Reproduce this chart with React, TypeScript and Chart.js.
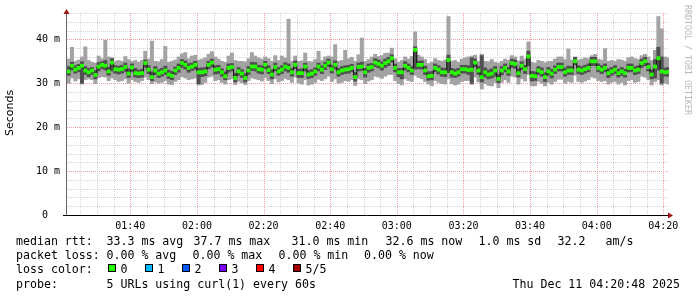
import React, { useEffect, useRef } from 'react';
import { Chart, registerables } from 'chart.js';

Chart.register(...registerables);

// ---- data (milliseconds), one sample per minute starting 01:21 ----
const FIRST_SAMPLE_MIN = 81; // minutes after midnight
const medianMs = [
  32.7, 34.0, 33.1, 33.5, 34.0, 32.9, 32.5, 32.9, 31.9, 33.8,
  34.2, 34.0, 32.7, 34.7, 33.2, 33.1, 33.2, 33.7, 32.2, 33.6,
  32.3, 32.2, 32.3, 34.6, 33.1, 31.4, 32.9, 32.2, 32.5, 32.9,
  32.0, 31.7, 32.9, 33.5, 34.6, 34.2, 33.5, 33.8, 34.2, 32.5,
  32.5, 32.7, 34.2, 34.7, 33.1, 33.2, 32.5, 31.6, 33.5, 33.7,
  31.2, 32.7, 32.2, 31.2, 32.9, 33.8, 33.8, 33.2, 33.1, 34.2,
  33.0, 32.0, 33.7, 32.7, 33.1, 33.8, 33.5, 32.5, 34.2, 32.3,
  32.3, 33.8, 32.0, 32.2, 32.7, 33.8, 33.1, 34.0, 34.7, 33.2,
  34.2, 32.5, 32.9, 33.1, 33.2, 33.5, 31.4, 33.7, 33.8, 32.5,
  33.5, 33.7, 34.7, 34.4, 34.0, 34.6, 35.0, 35.7, 33.5, 32.5,
  32.5, 34.0, 33.5, 32.9, 37.6, 34.2, 34.2, 32.9, 31.6, 31.7,
  33.5, 33.1, 32.5, 32.5, 35.3, 32.5, 32.2, 32.5, 33.2, 33.2,
  33.0, 33.1, 34.7, 32.9, 31.4, 32.5, 32.0, 32.2, 32.9, 31.0,
  32.9, 33.5, 32.7, 34.6, 34.4, 32.3, 34.0, 33.2, 36.1, 31.7,
  31.6, 32.9, 32.5, 31.4, 32.7, 32.2, 33.1, 33.7, 33.7, 32.5,
  32.9, 32.9, 35.0, 33.1, 32.9, 33.2, 33.5, 35.0, 35.0, 33.5,
  33.1, 33.5, 32.3, 32.7, 33.1, 32.3, 32.7, 32.3, 33.5, 33.5,
  32.9, 33.1, 34.6, 35.0, 33.7, 32.0, 33.8, 35.7, 32.7, 32.5,
  32.6,
];
const innerLowMs = [
  31.8, 33.0, 32.3, 32.6, 30.0, 32.0, 31.5, 32.0, 31.0, 32.8,
  33.3, 33.0, 31.8, 32.8, 32.3, 32.1, 32.3, 32.7, 31.3, 32.6,
  31.4, 31.3, 31.4, 33.6, 32.2, 30.6, 32.0, 31.3, 31.6, 32.0,
  31.1, 30.8, 32.0, 32.5, 33.6, 33.2, 32.5, 32.9, 33.2, 29.9,
  31.5, 31.7, 33.3, 33.7, 32.1, 32.2, 31.6, 30.8, 32.5, 32.8,
  30.3, 31.8, 31.3, 30.3, 32.0, 32.9, 32.8, 32.3, 32.1, 33.3,
  32.2, 31.0, 32.8, 31.8, 32.2, 32.8, 32.5, 31.6, 33.3, 31.3,
  31.3, 32.8, 31.1, 31.3, 31.8, 32.8, 32.2, 33.1, 33.8, 32.3,
  33.2, 31.6, 32.0, 32.2, 32.3, 32.6, 30.5, 32.8, 32.9, 31.4,
  32.5, 32.8, 33.8, 33.5, 33.0, 33.6, 34.0, 34.8, 32.6, 31.5,
  31.0, 33.0, 32.6, 32.0, 33.2, 33.3, 33.2, 32.0, 30.7, 30.8,
  32.6, 32.1, 31.6, 31.5, 32.4, 31.4, 31.3, 31.6, 32.3, 32.3,
  32.0, 30.0, 33.8, 32.0, 30.3, 31.4, 31.0, 31.2, 31.6, 30.1,
  31.9, 32.6, 31.8, 33.6, 33.4, 31.4, 33.1, 32.2, 34.0, 30.5,
  30.6, 32.0, 31.6, 30.4, 31.8, 31.2, 32.2, 32.8, 32.8, 31.6,
  32.0, 32.0, 34.2, 32.2, 32.0, 32.3, 32.6, 34.0, 34.0, 32.6,
  32.2, 32.6, 31.3, 31.8, 32.2, 31.4, 31.8, 31.4, 32.6, 32.6,
  32.0, 32.2, 33.6, 34.0, 32.8, 31.0, 31.2, 33.0, 30.0, 31.6,
  31.6,
];
const innerHighMs = [
  33.8, 34.8, 34.0, 34.3, 34.9, 33.8, 33.4, 33.6, 32.9, 34.7,
  34.9, 35.2, 33.6, 35.6, 34.0, 33.9, 34.1, 34.6, 33.3, 34.4,
  33.4, 33.0, 33.2, 35.3, 34.0, 32.6, 33.8, 33.1, 33.4, 33.9,
  33.0, 32.7, 33.7, 34.4, 35.4, 35.1, 34.5, 34.6, 35.0, 33.4,
  33.5, 33.6, 35.0, 35.5, 34.0, 34.1, 33.3, 32.6, 34.4, 34.5,
  32.3, 33.6, 33.1, 32.2, 33.8, 34.8, 34.7, 34.1, 34.0, 35.0,
  34.0, 33.1, 34.6, 33.6, 34.0, 34.7, 34.4, 33.4, 35.1, 33.2,
  33.3, 34.6, 32.9, 33.1, 33.5, 34.6, 34.0, 34.8, 35.5, 34.1,
  35.1, 33.4, 33.8, 34.0, 34.1, 34.3, 32.5, 34.6, 34.8, 33.4,
  34.4, 34.5, 35.6, 35.3, 34.9, 35.5, 35.9, 36.5, 34.4, 33.4,
  33.4, 34.9, 34.4, 33.8, 38.3, 35.0, 35.1, 33.9, 32.6, 32.7,
  34.4, 34.0, 33.5, 33.4, 36.4, 33.4, 33.2, 33.4, 34.1, 34.1,
  34.0, 35.8, 35.5, 33.9, 36.3, 33.5, 33.0, 33.3, 33.8, 32.0,
  33.8, 34.4, 33.6, 35.5, 35.3, 33.3, 34.9, 34.1, 37.3, 32.7,
  32.6, 33.8, 33.5, 32.4, 33.6, 33.2, 34.0, 34.6, 34.6, 33.5,
  33.9, 33.8, 35.9, 34.0, 33.8, 34.1, 34.4, 35.9, 35.9, 34.4,
  34.0, 34.4, 33.3, 33.6, 34.0, 33.2, 33.6, 33.2, 34.4, 34.4,
  33.8, 34.0, 35.5, 35.9, 34.6, 33.0, 35.4, 38.2, 36.0, 33.5,
  33.6,
];
const minMs = [
  30.0, 31.2, 30.5, 31.0, 29.8, 30.8, 31.0, 30.8, 29.9, 31.3,
  31.5, 31.4, 30.6, 31.2, 30.8, 30.4, 30.6, 31.0, 30.0, 30.8,
  30.4, 30.2, 30.6, 31.4, 30.8, 29.9, 30.3, 30.0, 30.2, 30.6,
  29.8, 29.7, 30.4, 30.8, 31.5, 31.2, 30.8, 31.0, 31.2, 29.6,
  29.7, 30.2, 31.4, 31.6, 30.6, 30.8, 30.2, 29.8, 30.8, 31.0,
  29.7, 30.4, 30.1, 29.7, 30.6, 31.2, 31.0, 30.8, 30.5, 31.2,
  30.6, 29.9, 31.0, 30.3, 30.6, 31.1, 30.8, 30.2, 31.4, 30.0,
  29.8, 30.8, 29.6, 29.8, 30.2, 30.9, 30.6, 31.0, 31.6, 30.4,
  31.0, 30.0, 30.2, 30.6, 30.4, 30.8, 29.5, 31.0, 30.8, 29.9,
  30.5, 30.8, 31.6, 31.4, 31.1, 31.6, 32.0, 32.0, 30.6, 29.9,
  29.6, 31.0, 30.6, 30.4, 31.8, 31.3, 31.0, 30.4, 29.8, 29.4,
  30.6, 30.2, 29.9, 29.8, 31.0, 29.9, 29.6, 29.8, 30.4, 30.6,
  30.6, 29.7, 31.4, 30.3, 28.7, 29.9, 29.5, 29.4, 30.2, 29.0,
  30.2, 30.8, 30.2, 31.6, 31.4, 29.8, 31.0, 30.5, 32.0, 29.4,
  29.4, 30.4, 30.0, 29.4, 30.2, 29.8, 30.4, 30.9, 30.9, 30.0,
  30.4, 30.2, 31.8, 30.4, 30.2, 30.5, 30.8, 31.4, 31.2, 30.6,
  30.4, 30.6, 29.8, 30.2, 30.4, 29.8, 30.2, 29.6, 30.6, 30.8,
  30.2, 30.4, 31.6, 31.4, 30.8, 29.6, 30.4, 30.8, 29.6, 30.0,
  29.8,
];
const maxMs = [
  35.5, 38.2, 35.0, 35.3, 36.0, 38.3, 35.2, 34.8, 34.6, 36.2,
  35.6, 39.8, 36.0, 35.8, 35.0, 35.2, 35.0, 36.1, 35.4, 35.0,
  35.2, 34.8, 35.2, 37.3, 35.5, 39.6, 35.0, 34.9, 35.4, 38.4,
  34.8, 35.0, 35.3, 36.0, 36.7, 37.0, 35.6, 36.2, 36.4, 35.3,
  35.5, 35.8, 36.6, 37.2, 36.0, 35.5, 35.0, 34.8, 36.2, 36.9,
  35.2, 35.0, 35.0, 34.9, 35.6, 37.0, 36.2, 35.8, 35.5, 36.0,
  35.6, 35.0, 36.3, 35.2, 36.2, 35.8, 44.6, 35.0, 36.2, 35.0,
  35.1, 36.9, 35.0, 34.9, 35.4, 37.3, 35.2, 36.0, 36.2, 36.0,
  38.8, 35.0, 35.2, 37.5, 35.6, 35.9, 35.0, 36.5, 40.3, 35.0,
  35.4, 36.0, 36.6, 36.1, 36.3, 36.8, 36.9, 38.0, 35.6, 34.8,
  35.2, 36.0, 35.5, 36.1, 41.7, 36.4, 36.0, 35.4, 34.5, 34.8,
  35.6, 35.2, 35.0, 35.3, 45.2, 35.0, 35.2, 34.8, 35.5, 35.8,
  36.0, 36.2, 36.4, 35.0, 36.6, 35.0, 34.9, 35.4, 34.8, 34.6,
  35.0, 35.5, 35.2, 36.3, 36.0, 35.1, 36.2, 35.5, 39.4, 34.8,
  34.6, 35.2, 35.0, 34.7, 35.0, 35.0, 35.5, 36.0, 36.0, 35.4,
  37.8, 35.3, 36.0, 35.3, 35.5, 35.8, 35.6, 36.3, 36.6, 35.5,
  35.3, 37.9, 35.0, 35.2, 35.0, 35.4, 35.3, 35.0, 35.8, 36.0,
  35.6, 35.4, 36.3, 36.6, 36.0, 35.2, 37.5, 45.2, 42.4, 36.0,
  35.8,
];

// axis ranges / ticks
const X_MIN_MIN = 81;
const X_MAX_MIN = 261.7;
const Y_MAX_MS = 46;

// legend texts
const LEGEND_RTT = ['median rtt:', '33.3 ms avg', '37.7 ms max', '31.0 ms min', '32.6 ms now', '1.0 ms sd', '32.2', 'am/s'];
const LEGEND_LOSS = ['packet loss:', '0.00 % avg', '0.00 % max', '0.00 % min', '0.00 % now'];
const LOSS_TITLE = 'loss color:';
const LOSS_LABELS = ['0', '1', '2', '3', '4', '5/5'];
const LOSS_COLORS = ['#26ff00', '#00b8ff', '#0059ff', '#7e00ff', '#ff0000', '#a00000'];
const LEGEND_PROBE = ['probe:', '5 URLs using curl(1) every 60s', 'Thu Dec 11 04:20:48 2025'];
const Y_TITLE = 'Seconds';
const WATERMARK = 'RRDTOOL / TOBI OETIKER';

const MONO = '"DejaVu Sans Mono", monospace';

const decorPlugin = {
  id: 'smokeDecor',
  beforeDatasetsDraw(chart: any) {
    const { ctx, chartArea } = chart;
    const xs = chart.scales.x;
    const ys = chart.scales.y;
    ctx.save();
    ctx.lineWidth = 1;
    ctx.setLineDash([1, 1]);
    for (let v = 0; v <= Y_MAX_MS; v += 2) {
      const y = Math.round(ys.getPixelForValue(v)) + 0.5;
      ctx.strokeStyle = v % 10 === 0 ? 'rgba(238,150,150,0.9)' : 'rgba(205,205,205,0.9)';
      ctx.beginPath();
      ctx.moveTo(chartArea.left, y);
      ctx.lineTo(chartArea.right, y);
      ctx.stroke();
    }
    for (let t = Math.ceil(X_MIN_MIN / 5) * 5; t <= X_MAX_MIN; t += 5) {
      const x = Math.round(xs.getPixelForValue(t)) + 0.5;
      ctx.strokeStyle = t % 20 === 0 ? 'rgba(238,150,150,0.9)' : 'rgba(205,205,205,0.9)';
      ctx.beginPath();
      ctx.moveTo(x, chartArea.top);
      ctx.lineTo(x, chartArea.bottom);
      ctx.stroke();
    }
    ctx.restore();
  },
  afterDatasetsDraw(chart: any) {
    const { ctx, chartArea } = chart;
    ctx.save();
    ctx.setLineDash([]);
    ctx.lineWidth = 1;
    ctx.strokeStyle = '#666';
    ctx.beginPath();
    ctx.moveTo(chartArea.left - 0.5, chartArea.bottom);
    ctx.lineTo(chartArea.left - 0.5, chartArea.top - 2);
    ctx.stroke();
    ctx.strokeStyle = '#000';
    ctx.beginPath();
    ctx.moveTo(chartArea.left - 4, chartArea.bottom + 0.5);
    ctx.lineTo(chartArea.right + 1, chartArea.bottom + 0.5);
    ctx.stroke();
    ctx.fillStyle = '#a01010';
    ctx.beginPath();
    ctx.moveTo(chartArea.left - 0.5, chartArea.top - 4);
    ctx.lineTo(chartArea.left - 3.5, chartArea.top + 1);
    ctx.lineTo(chartArea.left + 2.5, chartArea.top + 1);
    ctx.closePath();
    ctx.fill();
    ctx.beginPath();
    ctx.moveTo(chartArea.right + 4, chartArea.bottom + 0.5);
    ctx.lineTo(chartArea.right - 1, chartArea.bottom - 2.5);
    ctx.lineTo(chartArea.right - 1, chartArea.bottom + 3.5);
    ctx.closePath();
    ctx.fill();
    ctx.restore();
  },
  afterDraw(chart: any) {
    const { ctx } = chart;
    ctx.save();
    ctx.textBaseline = 'alphabetic';
    ctx.textAlign = 'left';
    ctx.fillStyle = '#000';
    ctx.font = `11.6px ${MONO}`;
    const rttX = [16, 106.5, 193.5, 291.5, 385.5, 478.5, 557.5, 605.5];
    LEGEND_RTT.forEach((t, i) => ctx.fillText(t, rttX[i], 245));
    const lossX = [16, 106.5, 192.5, 278.5, 364];
    LEGEND_LOSS.forEach((t, i) => ctx.fillText(t, lossX[i], 259.2));
    ctx.fillText(LOSS_TITLE, 16, 273.4);
    LOSS_LABELS.forEach((t, i) => {
      const bx = 108 + i * 37;
      ctx.fillStyle = LOSS_COLORS[i];
      ctx.fillRect(bx, 264, 8, 8);
      ctx.strokeStyle = '#000';
      ctx.lineWidth = 1;
      ctx.strokeRect(bx + 0.5, 264.5, 7, 7);
      ctx.fillStyle = '#000';
      ctx.fillText(t, bx + 12.5, 273.4);
    });
    const probeX = [16, 106.5, 512.5];
    LEGEND_PROBE.forEach((t, i) => ctx.fillText(t, probeX[i], 287.6));

    ctx.save();
    ctx.translate(10, 113);
    ctx.rotate(-Math.PI / 2);
    ctx.textAlign = 'center';
    ctx.textBaseline = 'middle';
    ctx.font = '11px "DejaVu Sans", sans-serif';
    ctx.fillText(Y_TITLE, 0, 0);
    ctx.restore();

    ctx.save();
    ctx.translate(687.5, 5);
    ctx.rotate(Math.PI / 2);
    ctx.textAlign = 'left';
    ctx.textBaseline = 'middle';
    ctx.fillStyle = '#b8b8b8';
    ctx.font = `8.3px ${MONO}`;
    ctx.fillText(WATERMARK, 0, 0);
    ctx.restore();
    ctx.restore();
  },
};

function pad2(n: number) {
  return n < 10 ? `0${n}` : `${n}`;
}

export default function App() {
  const ref = useRef<HTMLCanvasElement | null>(null);

  useEffect(() => {
    const canvas = ref.current;
    if (!canvas) return;
    const times = medianMs.map((_, i) => FIRST_SAMPLE_MIN + 0.5 + i);
    const barCommon = {
      type: 'bar' as const,
      borderWidth: 0,
      barPercentage: 1,
      categoryPercentage: 1,
      grouped: false,
    };
    const chart = new Chart(canvas, {
      data: {
        datasets: [
          {
            ...barCommon,
            label: 'min-max',
            data: times.map((t, i) => ({ x: t, y: [minMs[i], maxMs[i]] })),
            backgroundColor: '#a3a3a3',
            order: 4,
          },
          {
            ...barCommon,
            label: 'inner',
            data: times.map((t, i) => ({ x: t, y: [innerLowMs[i], innerHighMs[i]] })),
            backgroundColor: '#505050',
            order: 3,
          },
          {
            type: 'line' as const,
            label: 'median line',
            data: times.map((t, i) => ({ x: t, y: medianMs[i] })),
            borderColor: '#111',
            borderWidth: 1,
            pointRadius: 0,
            stepped: 'middle',
            order: 2,
          },
          {
            ...barCommon,
            label: 'median',
            data: times.map((t, i) => ({ x: t, y: [medianMs[i] - 0.35, medianMs[i] + 0.35] })),
            backgroundColor: '#26ff00',
            order: 1,
          },
        ] as any,
      },
      options: {
        responsive: false,
        animation: false,
        devicePixelRatio: 1,
        layout: { padding: { top: 12, right: 28, left: 0, bottom: 0 } },
        plugins: { legend: { display: false }, tooltip: { enabled: false } },
        scales: {
          x: {
            type: 'linear',
            offset: false,
            min: X_MIN_MIN,
            max: X_MAX_MIN,
            afterFit: (s: any) => {
              s.height = 82;
            },
            grid: { display: false, drawTicks: false, offset: false },
            border: { display: false },
            ticks: {
              stepSize: 20,
              includeBounds: false,
              autoSkip: false,
              maxRotation: 0,
              padding: 5,
              color: '#000',
              font: { family: MONO, size: 10 },
              callback: (v: any) => `${pad2(Math.floor(v / 60))}:${pad2(v % 60)}`,
            },
          },
          y: {
            type: 'linear',
            min: 0,
            max: Y_MAX_MS,
            afterFit: (s: any) => {
              s.width = 67;
            },
            grid: { display: false, drawTicks: false },
            border: { display: false },
            ticks: {
              stepSize: 10,
              includeBounds: false,
              padding: 7,
              color: '#000',
              font: { family: MONO, size: 10 },
              callback: (v: any) => (v === 0 ? '0  ' : `${v} m`),
            },
          },
        },
      } as any,
      plugins: [decorPlugin],
    });
    return () => chart.destroy();
  }, []);

  return (
    <div style={{ position: 'absolute', left: 0, top: 0, width: 697, height: 297, background: '#fff' }}>
      <canvas ref={ref} width={697} height={297} style={{ width: 697, height: 297, display: 'block' }} />
    </div>
  );
}
